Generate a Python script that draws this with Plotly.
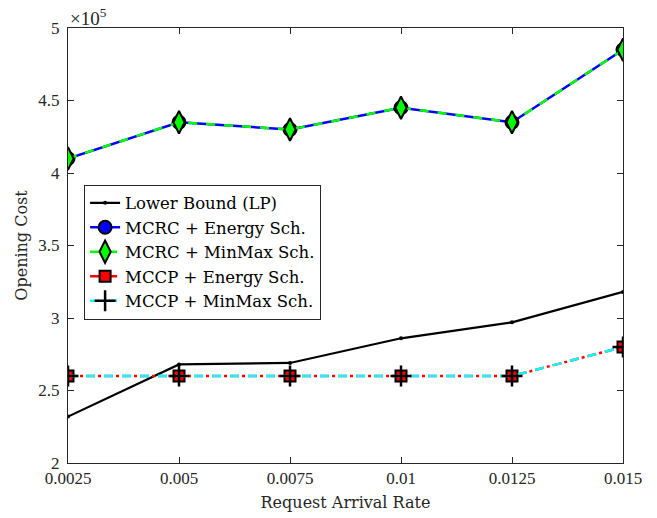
import plotly.graph_objects as go

# Request arrival rates (x axis)
rates = [0.0025, 0.005, 0.0075, 0.01, 0.0125, 0.015]

# Opening cost per scheme
lower_bound = [2.32e5, 2.68e5, 2.69e5, 2.86e5, 2.97e5, 3.18e5]
mcrc_energy = [4.10e5, 4.35e5, 4.30e5, 4.45e5, 4.35e5, 4.85e5]
mcrc_minmax = [4.10e5, 4.35e5, 4.30e5, 4.45e5, 4.35e5, 4.85e5]
mccp_energy = [2.60e5, 2.60e5, 2.60e5, 2.60e5, 2.60e5, 2.80e5]
mccp_minmax = [2.60e5, 2.60e5, 2.60e5, 2.60e5, 2.60e5, 2.80e5]

x_ticks = [0.0025, 0.005, 0.0075, 0.01, 0.0125, 0.015]
x_tick_text = ["0.0025", "0.005", "0.0075", "0.01", "0.0125", "0.015"]
y_ticks = [2e5, 2.5e5, 3e5, 3.5e5, 4e5, 4.5e5, 5e5]
y_tick_text = ["2", "2.5", "3", "3.5", "4", "4.5", "5"]

TEXT_FONT = "DejaVu Serif"
TICK_FONT = "Liberation Serif"
AXIS = "#262626"

fig = go.Figure()

fig.add_trace(go.Scatter(
    x=rates, y=lower_bound, name="Lower Bound (LP)", mode="lines+markers",
    line=dict(color="black", width=2.2),
    marker=dict(symbol="circle", size=4, color="black"),
))
fig.add_trace(go.Scatter(
    x=rates, y=mcrc_energy, name="MCRC + Energy Sch.", mode="lines+markers",
    line=dict(color="#0000ff", width=2.5),
    marker=dict(symbol="circle", size=13, color="#0000ff",
                line=dict(color="black", width=2)),
))
fig.add_trace(go.Scatter(
    x=rates, y=mcrc_minmax, name="MCRC + MinMax Sch.", mode="lines+markers",
    line=dict(color="#00ff00", width=2.5, dash="dash"),
    marker=dict(symbol="diamond-tall", size=16, color="#00ff00",
                line=dict(color="black", width=2)),
))
fig.add_trace(go.Scatter(
    x=rates, y=mccp_energy, name="MCCP + Energy Sch.", mode="lines+markers",
    line=dict(color="#ff0000", width=2.5, dash="dashdot"),
    marker=dict(symbol="square", size=11, color="#ff0000",
                line=dict(color="black", width=2)),
))
fig.add_trace(go.Scatter(
    x=rates, y=mccp_minmax, name="MCCP + MinMax Sch.", mode="lines+markers",
    line=dict(color="#00ffff", width=2.5, dash="dash"),
    marker=dict(symbol="cross-thin", size=15, color="black",
                line=dict(color="black", width=2.5)),
))

axis_common = dict(
    showline=True, linecolor=AXIS, linewidth=1, mirror="ticks",
    ticks="inside", ticklen=6, tickcolor=AXIS, tickwidth=1,
    showgrid=False, zeroline=False, automargin=False,
    tickfont=dict(family=TICK_FONT, size=17, color=AXIS),
)

fig.update_layout(
    width=657, height=518,
    margin=dict(l=68, r=34, t=28, b=55),
    paper_bgcolor="white", plot_bgcolor="white",
    font=dict(family=TEXT_FONT, size=15, color="black"),
    xaxis=dict(
        range=[0.0025, 0.015], tickvals=x_ticks, ticktext=x_tick_text,
        title=dict(text="Request Arrival Rate", standoff=9,
                   font=dict(family=TEXT_FONT, size=16, color=AXIS)),
        **axis_common,
    ),
    yaxis=dict(
        range=[2e5, 5e5], tickvals=y_ticks, ticktext=y_tick_text,
        ticklabelstandoff=4,
        title=dict(text="Opening Cost", standoff=6,
                   font=dict(family=TEXT_FONT, size=16, color=AXIS)),
        **axis_common,
    ),
    legend=dict(
        x=0.029, y=0.64, xanchor="left", yanchor="top",
        bgcolor="white", bordercolor="#262626", borderwidth=1,
        font=dict(family=TEXT_FONT, size=16.5, color="black"),
        tracegroupgap=0, itemwidth=30,
    ),
    showlegend=True,
)

fig.add_annotation(
    text="×10<sup>5</sup>", xref="paper", yref="paper", x=0.0, y=1.0,
    xanchor="left", yanchor="bottom", showarrow=False,
    font=dict(family=TICK_FONT, size=19, color=AXIS), yshift=-3,
)

fig.write_html("out.html")
